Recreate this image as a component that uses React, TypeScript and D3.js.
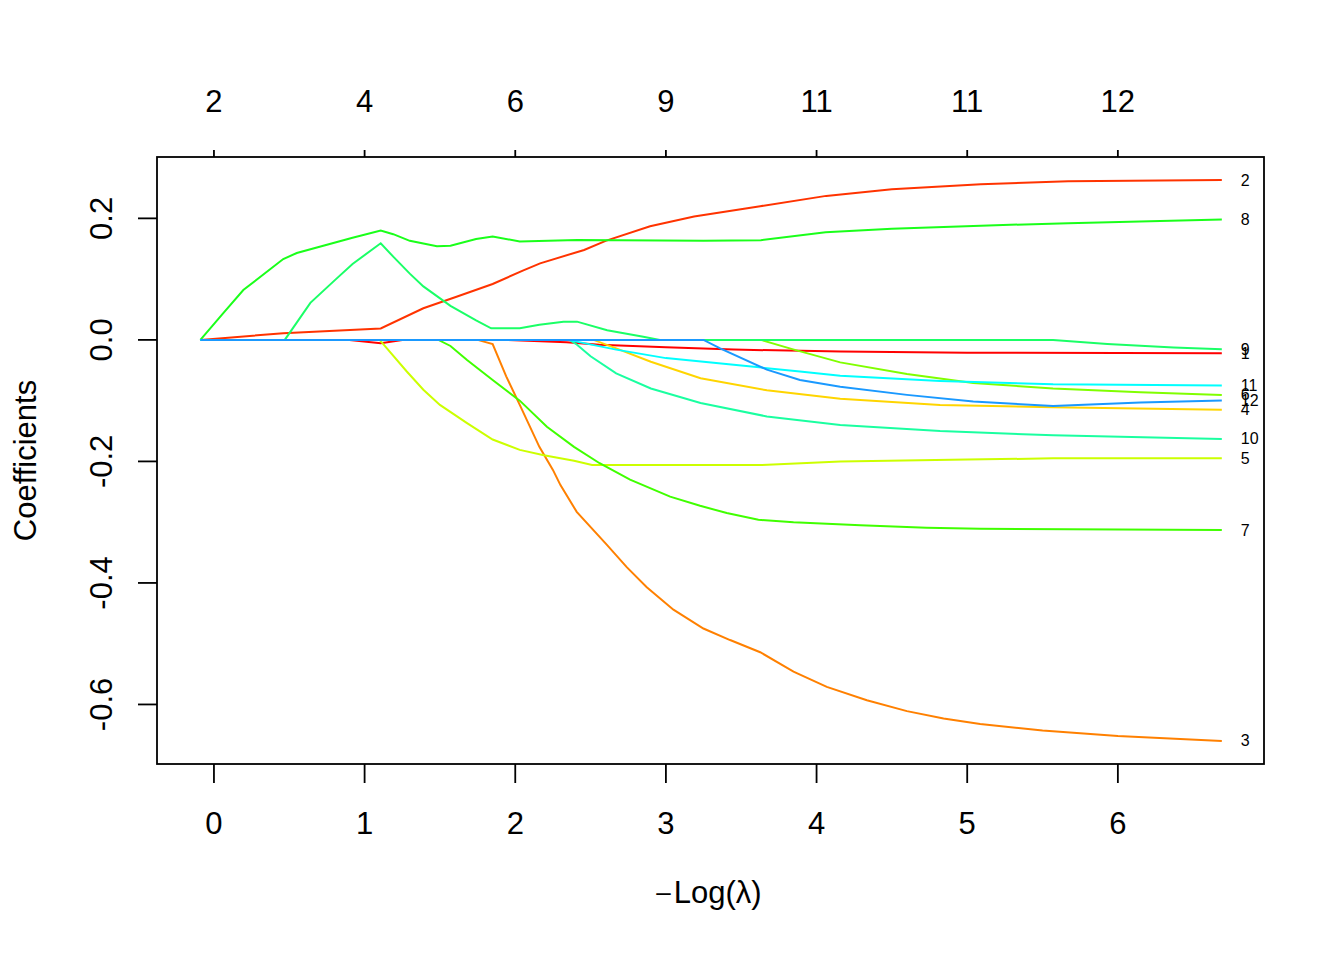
import React, { useEffect } from 'react';
import * as d3 from 'd3';

// -Log(lambda) knots and coefficient values, one array per variable
const path1: [number, number][] = [[-0.09, 0], [0.9, 0], [1.107, -0.0055], [1.25, 0], [1.95, 0], [2.34, -0.004], [2.56, -0.008], [3.0, -0.012], [3.45, -0.016], [4.16, -0.019], [5.0, -0.021], [6.69, -0.022]];
const path2: [number, number][] = [[-0.09, 0], [0.46, 0.011], [1.107, 0.0187], [1.39, 0.052], [1.61, 0.071], [1.85, 0.092], [2.05, 0.114], [2.165, 0.126], [2.457, 0.148], [2.6, 0.163], [2.895, 0.187], [3.187, 0.203], [3.626, 0.22], [4.064, 0.237], [4.5, 0.248], [5.09, 0.256], [5.67, 0.261], [6.69, 0.263]];
const path3: [number, number][] = [[-0.09, 0], [1.75, 0], [1.85, -0.007], [1.94, -0.06], [2.03, -0.107], [2.16, -0.176], [2.25, -0.214], [2.3, -0.239], [2.408, -0.283], [2.607, -0.337], [2.74, -0.374], [2.873, -0.407], [3.05, -0.444], [3.249, -0.475], [3.426, -0.494], [3.626, -0.514], [3.847, -0.546], [4.068, -0.571], [4.334, -0.593], [4.6, -0.611], [4.843, -0.623], [5.086, -0.632], [5.5, -0.643], [6.0, -0.652], [6.69, -0.66]];
const path4: [number, number][] = [[-0.09, 0], [2.52, 0], [2.67, -0.014], [2.9, -0.036], [3.23, -0.063], [3.67, -0.083], [4.157, -0.097], [4.82, -0.107], [5.57, -0.111], [6.69, -0.115]];
const path5: [number, number][] = [[-0.09, 0], [1.1, 0], [1.28, -0.052], [1.39, -0.082], [1.5, -0.107], [1.68, -0.137], [1.85, -0.164], [2.03, -0.181], [2.19, -0.19], [2.39, -0.199], [2.51, -0.206], [3.0, -0.206], [3.63, -0.206], [4.157, -0.2], [5.0, -0.197], [5.57, -0.195], [6.69, -0.195]];
const path6: [number, number][] = [[-0.09, 0], [3.63, 0], [3.85, -0.016], [4.157, -0.037], [4.6, -0.056], [5.04, -0.071], [5.57, -0.08], [6.15, -0.086], [6.69, -0.0905]];
const path7: [number, number][] = [[-0.09, 0], [1.49, 0], [1.57, -0.01], [1.68, -0.033], [1.85, -0.066], [2.03, -0.1], [2.21, -0.143], [2.39, -0.176], [2.56, -0.203], [2.762, -0.23], [3.028, -0.258], [3.227, -0.273], [3.404, -0.285], [3.614, -0.296], [3.847, -0.3], [4.29, -0.305], [4.73, -0.309], [5.086, -0.311], [6.69, -0.313]];
const path8: [number, number][] = [[-0.09, 0], [0.062, 0.044], [0.195, 0.082], [0.46, 0.133], [0.55, 0.143], [0.92, 0.168], [1.107, 0.18], [1.19, 0.174], [1.3, 0.163], [1.48, 0.154], [1.57, 0.155], [1.74, 0.166], [1.85, 0.17], [2.03, 0.162], [2.41, 0.1646], [3.25, 0.163], [3.63, 0.164], [4.06, 0.177], [4.5, 0.183], [5.09, 0.188], [5.67, 0.192], [6.69, 0.198]];
const path9: [number, number][] = [[-0.09, 0], [0.47, 0], [0.64, 0.061], [0.81, 0.1], [0.92, 0.125], [1.107, 0.159], [1.19, 0.137], [1.3, 0.109], [1.39, 0.088], [1.57, 0.056], [1.74, 0.032], [1.84, 0.019], [2.03, 0.019], [2.16, 0.025], [2.32, 0.03], [2.41, 0.03], [2.61, 0.016], [2.85, 0.005], [2.96, 0], [5.57, 0], [5.93, -0.0066], [6.37, -0.0126], [6.69, -0.0154]];
const path10: [number, number][] = [[-0.09, 0], [2.36, 0], [2.41, -0.008], [2.5, -0.027], [2.67, -0.055], [2.9, -0.08], [3.23, -0.104], [3.67, -0.126], [4.157, -0.14], [4.82, -0.15], [5.57, -0.157], [6.69, -0.163]];
const path11: [number, number][] = [[-0.09, 0], [2.35, 0], [2.67, -0.016], [3.0, -0.03], [3.45, -0.041], [3.89, -0.052], [4.157, -0.059], [4.82, -0.0675], [5.57, -0.073], [6.69, -0.075]];
const path12: [number, number][] = [[-0.09, 0], [3.25, 0], [3.36, -0.014], [3.67, -0.049], [3.89, -0.066], [4.157, -0.077], [4.6, -0.0905], [5.04, -0.1015], [5.57, -0.1087], [6.15, -0.103], [6.69, -0.0999]];

const paths = [path1, path2, path3, path4, path5, path6, path7, path8, path9, path10, path11, path12];
const varLabels = ['1', '2', '3', '4', '5', '6', '7', '8', '9', '10', '11', '12'];
const colors = ['#FF0000', '#FF3300', '#FF8000', '#FFD500', '#CCFF00', '#80FF00', '#40FF00', '#1AFF1A', '#1AFF66', '#1AFFA0', '#00FFFF', '#1A99FF'];

const xTicks = [0, 1, 2, 3, 4, 5, 6];
const yTicks = [-0.6, -0.4, -0.2, 0.0, 0.2];
const dfLabels = ['2', '4', '6', '9', '11', '11', '12'];

const W = 1344;
const H = 960;
const box = { left: 157, right: 1264, top: 157, bottom: 764 };
const font = '"Liberation Sans", Arial, Helvetica, sans-serif';

const App: React.FC = () => {
  useEffect(() => {
    document.body.style.margin = '0';
  }, []);

  const x = d3.scaleLinear().domain([-0.378, 6.97]).range([box.left, box.right]);
  const y = d3.scaleLinear().domain([0.301, -0.698]).range([box.top, box.bottom]);

  const line = d3.line<[number, number]>()
    .x(d => x(d[0]))
    .y(d => y(d[1]));

  return (
    <svg width={W} height={H} style={{ display: 'block', background: '#fff' }} fontFamily={font}>
      {/* coefficient paths */}
      {paths.map((p, i) => (
        <path key={i} d={line(p) || ''} fill="none" stroke={colors[i]} strokeWidth={2} />
      ))}

      {/* variable labels at the right end */}
      {paths.map((p, i) => {
        const last = p[p.length - 1];
        return (
          <text key={'l' + i} x={x(last[0]) + 19} y={y(last[1])} fontSize={16} dominantBaseline="central">
            {varLabels[i]}
          </text>
        );
      })}

      {/* box */}
      <rect x={box.left} y={box.top} width={box.right - box.left} height={box.bottom - box.top}
        fill="none" stroke="#000" strokeWidth={1.8} />

      {/* bottom axis */}
      {xTicks.map(t => (
        <g key={'b' + t}>
          <line x1={x(t)} x2={x(t)} y1={box.bottom} y2={box.bottom + 19} stroke="#000" strokeWidth={1.8} />
          <text x={x(t)} y={834} fontSize={31} textAnchor="middle">{t}</text>
        </g>
      ))}

      {/* top axis: number of nonzero coefficients */}
      {xTicks.map((t, i) => (
        <g key={'t' + t}>
          <line x1={x(t)} x2={x(t)} y1={box.top} y2={box.top - 7} stroke="#000" strokeWidth={1.8} />
          <text x={x(t)} y={112} fontSize={31} textAnchor="middle">{dfLabels[i]}</text>
        </g>
      ))}

      {/* left axis */}
      {yTicks.map(t => (
        <g key={'y' + t}>
          <line x1={box.left - 19} x2={box.left} y1={y(t)} y2={y(t)} stroke="#000" strokeWidth={1.8} />
          <text transform={`translate(112,${y(t)}) rotate(-90)`} fontSize={31} textAnchor="middle">
            {t.toFixed(1)}
          </text>
        </g>
      ))}

      {/* axis titles */}
      <text transform={`translate(36,${(box.top + box.bottom) / 2}) rotate(-90)`} fontSize={31} textAnchor="middle">
        Coefficients
      </text>
      <text x={709} y={903} fontSize={31} textAnchor="middle">
        <tspan fontSize={26} dy={-2}>–</tspan>
        <tspan dx={3} dy={2}>Log(λ)</tspan>
      </text>
    </svg>
  );
};

export default App;
